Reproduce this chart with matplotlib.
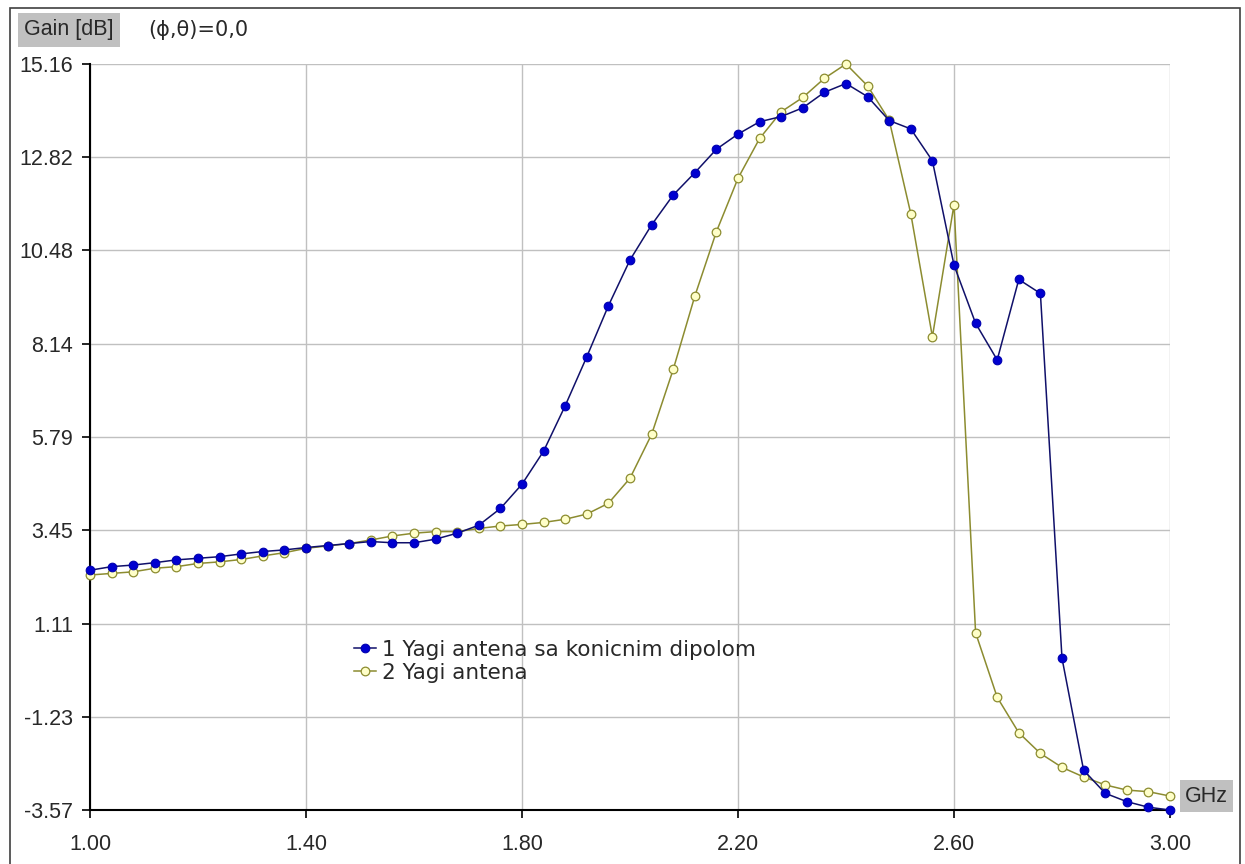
import matplotlib
matplotlib.use("Agg")
import matplotlib.pyplot as plt
from matplotlib.patches import Rectangle

plt.rcParams['font.family'] = ['Liberation Sans', 'DejaVu Sans']

freq_ghz = [1.00 + 0.04 * i for i in range(51)]

gain_yagi_conic = [2.45, 2.54, 2.58, 2.64, 2.71, 2.75, 2.79, 2.86, 2.92, 2.96,
                   3.02, 3.07, 3.12, 3.17, 3.14, 3.14, 3.23, 3.38, 3.58, 4.00,
                   4.61, 5.44, 6.58, 7.81, 9.09, 10.24, 11.12, 11.87, 12.43, 13.02,
                   13.40, 13.71, 13.84, 14.06, 14.45, 14.67, 14.34, 13.74, 13.53, 12.73,
                   10.11, 8.65, 7.73, 9.75, 9.40, 0.24, -2.57, -3.15, -3.36, -3.50,
                   -3.57]

gain_yagi = [2.33, 2.37, 2.41, 2.50, 2.54, 2.62, 2.66, 2.72, 2.81, 2.89,
             3.00, 3.06, 3.12, 3.21, 3.31, 3.38, 3.42, 3.42, 3.50, 3.56,
             3.60, 3.65, 3.73, 3.86, 4.13, 4.76, 5.86, 7.49, 9.33, 10.95,
             12.29, 13.29, 13.96, 14.32, 14.80, 15.16, 14.61, 13.75, 11.40, 8.31,
             11.63, 0.88, -0.74, -1.63, -2.15, -2.50, -2.74, -2.94, -3.07, -3.11,
             -3.22]

series_labels = ["1 Yagi antena sa konicnim dipolom", "2 Yagi antena"]
y_ticks = [-3.57, -1.23, 1.11, 3.45, 5.79, 8.14, 10.48, 12.82, 15.16]
x_ticks = [1.00, 1.40, 1.80, 2.20, 2.60, 3.00]

W, H = 1245, 864
FS = 15.5
TXT = '#282828'
fig = plt.figure(figsize=(W / 100, H / 100), dpi=100)
fig.patch.set_facecolor('white')

# outer frame
fig.patches.append(Rectangle((10 / W, -0.01), (1240 - 10) / W, (H - 8) / H + 0.01,
                             transform=fig.transFigure, fill=False,
                             edgecolor='#404040', linewidth=1.2))

ax = fig.add_axes([90 / W, 1 - 810 / H, (1170 - 90) / W, (810 - 64) / H])
ax.set_xlim(1.00, 3.00)
ax.set_ylim(-3.57, 15.16)

ax.set_xticks(x_ticks)
ax.set_xticklabels([f"{v:.2f}" for v in x_ticks])
ax.set_yticks(y_ticks)
ax.set_yticklabels([f"{v:.2f}" for v in y_ticks])
ax.grid(True, color='#C0C0C0', linewidth=1.0)
ax.set_axisbelow(True)
for s in ['top', 'right']:
    ax.spines[s].set_visible(False)
for s in ['left', 'bottom']:
    ax.spines[s].set_color('black')
    ax.spines[s].set_linewidth(1.5)
ax.tick_params(axis='both', labelsize=FS, length=6, width=1.2, color='black',
               labelcolor=TXT)
ax.tick_params(axis='x', pad=11)
ax.tick_params(axis='y', pad=6)

ax.plot(freq_ghz, gain_yagi_conic, color='#10106A', linewidth=1.1,
        marker='o', markersize=6.2, markerfacecolor='#0000D0',
        markeredgecolor='#0000B0', markeredgewidth=0.8,
        label=series_labels[0], clip_on=False, zorder=4)
ax.plot(freq_ghz, gain_yagi, color='#8C8C30', linewidth=1.1,
        marker='o', markersize=6.2, markerfacecolor='#FFFFC8',
        markeredgecolor='#8C8C30', markeredgewidth=0.9,
        label=series_labels[1], clip_on=False, zorder=3)

leg = ax.legend(loc='upper left', bbox_to_anchor=(354 / W, 1 - 640 / H),
                bbox_transform=fig.transFigure, frameon=False,
                prop={'family': ['DejaVu Sans'], 'size': 15.5},
                handlelength=1.0, handletextpad=0.3, labelspacing=0.12,
                borderaxespad=0, borderpad=0)
for t in leg.get_texts():
    t.set_color(TXT)

fig.text(24 / W, 1 - 30 / H, "Gain [dB]", fontsize=FS, color=TXT,
         va='center', ha='left',
         bbox=dict(boxstyle='square,pad=0.3', facecolor='#C0C0C0', edgecolor='none'))
fig.text(148 / W, 1 - 30 / H, "(ϕ,θ)=0,0", fontsize=FS - 0.5, color=TXT,
         va='center', ha='left', family=['DejaVu Sans'])
fig.text(1185 / W, 1 - 796 / H, "GHz", fontsize=FS, color=TXT,
         va='center', ha='left',
         bbox=dict(boxstyle='square,pad=0.25', facecolor='#C0C0C0', edgecolor='none'))

fig.savefig("out.png", dpi=100)
